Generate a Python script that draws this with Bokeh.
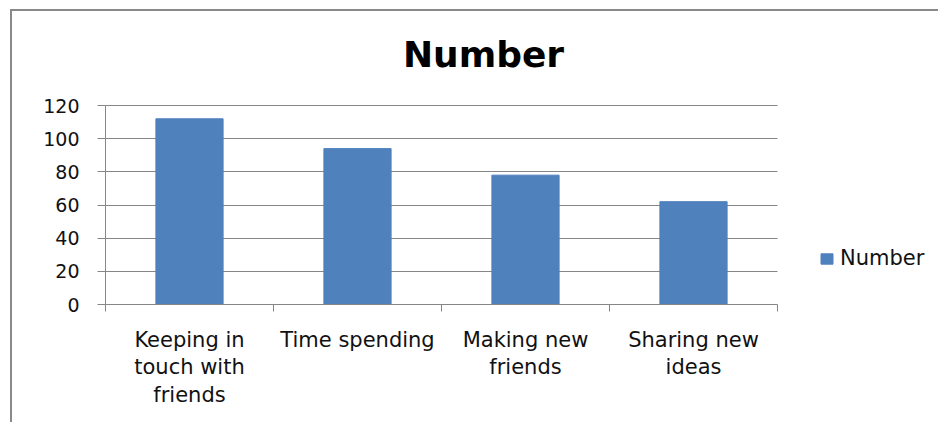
from bokeh.plotting import figure
from bokeh.models import (Range1d, LinearAxis, FixedTicker, Label, Grid,
                          Legend, LegendItem, ColumnDataSource)
from bokeh.embed import file_html
from bokeh.resources import INLINE

# ---- data ----
categories = ["Keeping in\ntouch with\nfriends", "Time spending", "Making new\nfriends", "Sharing new\nideas"]
values = [112, 94, 78, 62]
y_ticks = [0, 20, 40, 60, 80, 100, 120]
y_max = 120
series_name = "Number"
title_text = "Number"

BAR = "#4F81BD"
GRAY = "#868686"
FONT = "DejaVu Sans"

n = len(categories)
centers = [i + 0.5 for i in range(n)]
edges = list(range(n + 1))
src = ColumnDataSource(dict(x=centers, val=values, cat=categories))

# layout (pixels): plot area 672x199 px; frame extended right/up to hold legend and title
PLOT_W, PLOT_H = 672, 199
FRAME_W, FRAME_H = 832, 284
x_end = n * FRAME_W / PLOT_W
y_end = y_max * FRAME_H / PLOT_H

p = figure(
    x_range=Range1d(0, x_end),
    y_range=Range1d(0, y_end),
    width=928, height=413,
    output_backend="svg", toolbar_location=None,
    x_axis_location=None,
    min_border_left=93, min_border_right=3, min_border_top=9, min_border_bottom=120,
)
p.title = None
p.styles = {"margin-left": "10px", "margin-top": "9px",
            "border-left": "2px solid #898989", "border-top": "2px solid #898989"}
p.outline_line_color = None
p.background_fill_color = "white"
p.border_fill_color = "white"

# grid
p.xgrid.grid_line_color = None
p.ygrid.ticker = FixedTicker(ticks=y_ticks)
if "cross_bounds" in Grid.properties():
    p.ygrid.grid_line_color = GRAY
    p.ygrid.cross_bounds = (0, n)
else:
    p.ygrid.grid_line_color = None
    p.segment(x0=[0] * len(y_ticks), x1=[n] * len(y_ticks), y0=y_ticks, y1=y_ticks,
              line_color=GRAY, line_width=1)

r = p.vbar(x="x", top="val", width=0.4, source=src, fill_color=BAR, line_color=BAR)

# y axis
ya = p.yaxis[0]
ya.ticker = FixedTicker(ticks=y_ticks)
ya.bounds = (0, y_max)
ya.axis_line_color = GRAY
ya.major_tick_line_color = GRAY
ya.major_tick_out = 8
ya.major_tick_in = 0
ya.minor_tick_line_color = None
ya.major_label_text_font = FONT
ya.major_label_text_font_size = "19px"
ya.major_label_text_color = "#111111"
ya.major_label_standoff = 18

# x axis: boundary ticks (no labels)
ta = LinearAxis(ticker=FixedTicker(ticks=edges), bounds=(0, n),
                major_label_overrides={e: "" for e in edges})
ta.axis_line_color = GRAY
ta.major_tick_line_color = GRAY
ta.major_tick_out = 7
ta.major_tick_in = 0
ta.minor_tick_line_color = None
ta.major_label_text_font_size = "0px"
ta.major_label_standoff = 0
p.add_layout(ta, "below")

# x axis: category labels
ca = LinearAxis(ticker=FixedTicker(ticks=centers), bounds=(0, n),
                major_label_overrides={c: lab for c, lab in zip(centers, categories)})
ca.axis_line_color = None
ca.major_tick_line_color = None
ca.major_tick_out = 0
ca.major_tick_in = 0
ca.minor_tick_line_color = None
ca.major_label_text_font = FONT
ca.major_label_text_font_size = "21px"
ca.major_label_text_color = "#111111"
ca.major_label_text_line_height = 1.16
ca.major_label_standoff = 16
p.add_layout(ca, "below")

# title
p.add_layout(Label(x=378, y=250, x_units="screen", y_units="screen", text=title_text,
                   text_align="center", text_baseline="alphabetic",
                   text_font=FONT, text_font_style="bold", text_font_size="36px",
                   text_color="black"))

# legend
leg = Legend(items=[LegendItem(label=series_name, renderers=[r])], location=(714, 34))
leg.border_line_color = None
leg.background_fill_alpha = 0
leg.padding = 0
leg.margin = 0
leg.glyph_width = 15
leg.glyph_height = 13
leg.label_standoff = 6
leg.label_text_font = FONT
leg.label_text_font_size = "21px"
leg.label_text_color = "#111111"
p.add_layout(leg, "center")

open("out.html", "w").write(file_html(p, INLINE))
